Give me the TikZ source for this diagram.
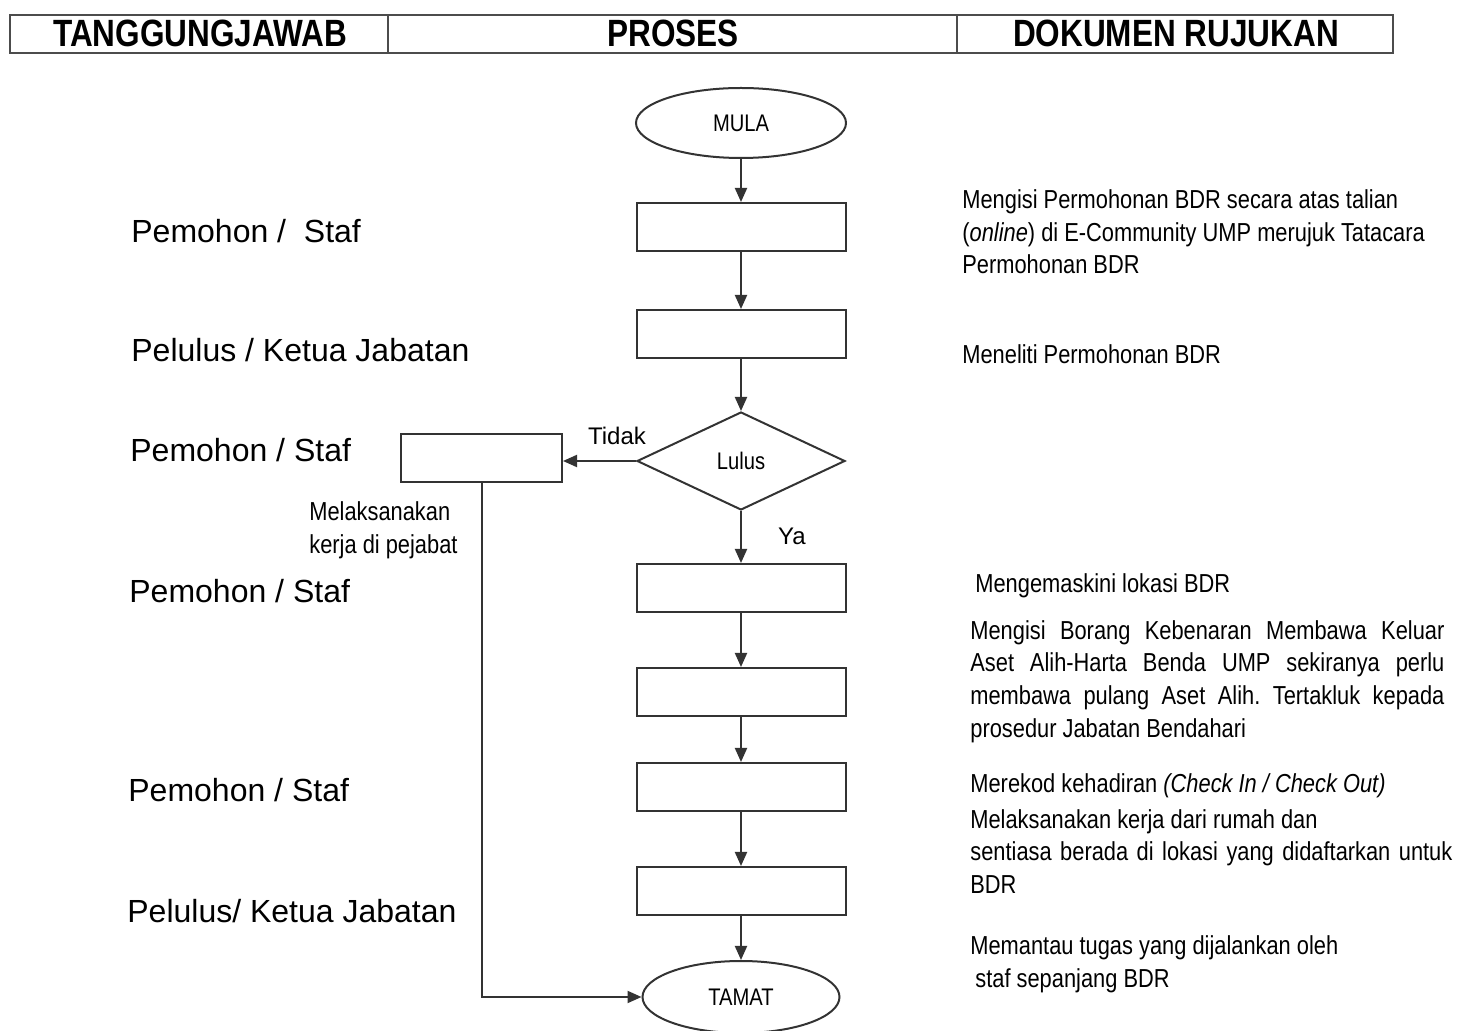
\documentclass[tikz,border=0pt]{standalone}
\usepackage{fontspec}
\setmainfont{Liberation Sans}
\newfontfamily\narrow[FakeStretch=0.84]{Liberation Sans}
\newfontfamily\hdrfont[FakeStretch=0.83]{Liberation Sans}
\usetikzlibrary{shapes.geometric,arrows.meta}
\frenchspacing
\begin{document}
\begin{tikzpicture}[x=0.5pt,y=-0.5pt,
  ln/.style={draw=black!80, line width=1pt},
  procbox/.style={ln, rectangle, minimum width=104.5pt, minimum height=24pt, inner sep=0pt},
  term/.style={ln, ellipse, minimum width=105pt, minimum height=35pt, inner sep=0pt, font=\narrow\fontsize{12}{14}\selectfont},
  dec/.style={ln, diamond, minimum width=104pt, minimum height=49pt, inner sep=0pt, font=\narrow\fontsize{12}{14}\selectfont},
  arr/.style={draw=black!80, line width=1pt, -{Triangle[length=7pt,width=6pt]}},
  role/.style={anchor=base west, inner sep=0pt, font=\fontsize{16}{19}\selectfont},
  doc/.style={anchor=base west, inner sep=0pt, font=\narrow\fontsize{13}{16}\selectfont},
  hdr/.style={anchor=base, inner sep=0pt, font=\hdrfont\bfseries\fontsize{19}{21}\selectfont},
  yn/.style={anchor=base, inner sep=0pt, font=\fontsize{12}{14}\selectfont}]
\useasboundingbox (0,0) rectangle (1458,1031);

% header
\draw[draw=black!70, line width=0.9pt] (10,15) rectangle (1393,53);
\draw[draw=black!70, line width=0.9pt] (388,15) -- (388,53);
\draw[draw=black!70, line width=0.9pt] (957,15) -- (957,53);
\node[hdr] (h1) at (200,47) {TANGGUNGJAWAB};
\node[hdr] (h2) at (673,47) {PROSES};
\node[hdr] (h3) at (1176,47) {DOKUMEN RUJUKAN};

% flow shapes
\node[term] (mula) at (741,123) {MULA};
\node[procbox] (b1) at (741,227) {};
\node[procbox] (b2) at (741,334) {};
\node[dec] (lulus) at (741,461) {Lulus};
\node[procbox, minimum width=80.5pt] (lb) at (481.5,458) {};
\node[procbox] (b3) at (741,588) {};
\node[procbox] (b4) at (741,692) {};
\node[procbox] (b5) at (741,787) {};
\node[procbox] (b6) at (741,891) {};
\node[term, minimum width=98.5pt, minimum height=36pt] (tamat) at (741,997) {TAMAT};

% connectors
\draw[arr] (mula.south) -- (b1.north);
\draw[arr] (b1.south) -- (b2.north);
\draw[arr] (b2.south) -- (lulus.north);
\draw[arr] (lulus.west) -- (lulus.west -| lb.east);
\draw[arr] (lulus.south) -- (b3.north);
\draw[arr] (b3.south) -- (b4.north);
\draw[arr] (b4.south) -- (b5.north);
\draw[arr] (b5.south) -- (b6.north);
\draw[arr] (b6.south) -- (tamat.north);
\draw[arr] (lb.south) |- (tamat.west);

% connector labels
\node[yn] (tidak) at (617,445) {Tidak};
\node[yn] (ya) at (792,545) {Ya};
\node[doc] (mk1) at (309,521) {Melaksanakan};
\node[doc] (mk2) at (309,554) {kerja di pejabat};

% roles
\node[role] (r1) at (131,243) {Pemohon /\ \ Staf};
\node[role] (r2) at (131,362) {Pelulus / Ketua Jabatan};
\node[role] (r3) at (130,462) {Pemohon / Staf};
\node[role] (r4) at (129,603) {Pemohon / Staf};
\node[role] (r5) at (128,802) {Pemohon / Staf};
\node[role] (r6) at (127,922) {Pelulus/ Ketua Jabatan};

% documents
\node[doc] (d1a) at (962,209) {Mengisi Permohonan BDR secara atas talian};
\node[doc] (d1b) at (962,242) {(\textit{online}) di E-Community UMP merujuk Tatacara};
\node[doc] (d1c) at (962,274) {Permohonan BDR};
\node[doc] (d2) at (962,364) {Meneliti Permohonan BDR};
\node[doc] (d3) at (975,593) {Mengemaskini lokasi BDR};
\node[doc] (d4a) at (970,640) {\makebox[237pt][s]{Mengisi Borang Kebenaran Membawa Keluar}};
\node[doc] (d4b) at (970,672) {\makebox[237pt][s]{Aset Alih-Harta Benda UMP sekiranya perlu}};
\node[doc] (d4c) at (970,705) {\makebox[237pt][s]{membawa pulang Aset Alih. Tertakluk kepada}};
\node[doc] (d4d) at (970,738) {prosedur Jabatan Bendahari};
\node[doc] (d5a) at (970,793) {Merekod kehadiran \textit{(Check In / Check Out)}};
\node[doc] (d5b) at (970,829) {Melaksanakan kerja dari rumah dan};
\node[doc] (d5c) at (970,861) {\makebox[241pt][s]{sentiasa berada di lokasi yang didaftarkan untuk}};
\node[doc] (d5d) at (970,894) {BDR};
\node[doc] (d6a) at (970,955) {Memantau tugas yang dijalankan oleh};
\node[doc] (d6b) at (975,987) {staf sepanjang BDR};
\end{tikzpicture}
\end{document}
